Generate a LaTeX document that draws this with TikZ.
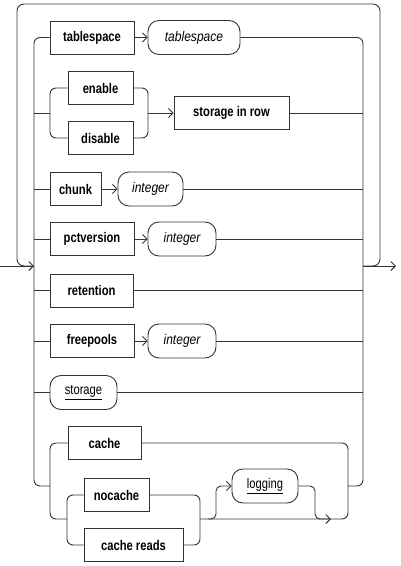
\documentclass[tikz,border=0pt]{standalone}
\usepackage{fontspec}
\setmainfont{Liberation Sans}
\newfontfamily\narfont{Liberation Sans}[FakeStretch=0.8]
\newfontfamily\narifont{Liberation Sans}[FakeStretch=0.86]
\usetikzlibrary{arrows.meta}
\begin{document}
\begin{tikzpicture}[x=1pt,y=-1pt,
  line width=0.9pt, draw=black!80,
  kw/.style={draw, rectangle, font=\narfont\bfseries\fontsize{14}{16}\selectfont, inner sep=0pt, minimum height=33pt},
  var/.style={draw, rectangle, rounded corners=11pt, font=\narifont\itshape\fontsize{14}{16}\selectfont, inner sep=0pt, minimum height=34pt},
  refx/.style={draw, rectangle, rounded corners=11pt, font=\narfont\fontsize{14}{16}\selectfont, inner sep=0pt, minimum height=34pt},
  rail/.style={rounded corners=6pt},
  arr/.style={-{Straight Barb[length=4.5pt,width=9pt]}},
]
\useasboundingbox (0,0) rectangle (400,566);
% nodes
\node[kw, minimum width=84pt] (tsk) at (92,37.5) {tablespace};
\node[var, minimum width=92pt] (tsv) at (194,37.5) {tablespace};
\node[kw, minimum width=65pt] (en) at (100.5,88) {enable};
\node[kw, minimum width=65pt] (dis) at (100.5,138) {disable};
\node[kw, minimum width=115pt] (sir) at (231.5,113) {storage in row};
\node[kw, minimum width=51pt] (chunk) at (75.5,189) {chunk};
\node[var, minimum width=65pt] (i1) at (150.5,189) {integer};
\node[kw, minimum width=84pt] (pct) at (92,239) {pctversion};
\node[var, minimum width=68pt] (i2) at (182,239) {integer};
\node[kw, minimum width=83pt] (ret) at (91.5,290.5) {retention};
\node[kw, minimum width=84pt] (free) at (92,341) {freepools};
\node[var, minimum width=68pt] (i3) at (182,341) {integer};
\node[refx, minimum width=67pt] (stor) at (83.5,392.5) {\underline{storage}};
\node[kw, minimum width=73pt] (cache) at (104.5,443) {cache};
\node[kw, minimum width=65pt] (noc) at (116.5,495) {nocache};
\node[kw, minimum width=99pt] (cr) at (133.5,545) {cache reads};
\node[refx, minimum width=66pt] (log) at (265,486) {\underline{logging}};
% rail coordinates
\coordinate (L) at (34,0);
\coordinate (R) at (363,0);
\coordinate (in) at (0,266);
\coordinate (jin) at (34,266);
\coordinate (jout) at (363,266);
\coordinate (out) at (396,266);
\coordinate (eg) at (50,113);
\coordinate (eo) at (148,113);
\coordinate (cl) at (50,486);
\coordinate (cr2) at (348,486);
\coordinate (sl) at (67,519);
\coordinate (sr) at (200,519);
% main rails
\draw[rail] (tsk.west) -| (cl -| L) -- (cl);
\draw[rail] (tsv.east) -| (cr2 -| R) -- (cr2);
\draw[arr] (tsk.east) -- (tsv.west);
% enable/disable group
\draw (eg -| L) -- (eg);
\draw[rail] (en.west) -| (eg) |- (dis.west);
\draw[rail] (en.east) -| (eo) |- (dis.east);
\draw[arr] (eo) -- (sir.west);
\draw (sir.east) -- (sir.east -| R);
% chunk
\draw (chunk.west -| L) -- (chunk.west);
\draw[arr] (chunk.east) -- (i1.west);
\draw (i1.east) -- (i1.east -| R);
% pctversion
\draw (pct.west -| L) -- (pct.west);
\draw[arr] (pct.east) -- (i2.west);
\draw (i2.east) -- (i2.east -| R);
% retention
\draw (ret.west -| L) -- (ret.west);
\draw (ret.east) -- (ret.east -| R);
% freepools
\draw (free.west -| L) -- (free.west);
\draw[arr] (free.east) -- (i3.west);
\draw (i3.east) -- (i3.east -| R);
% storage
\draw (stor.west -| L) -- (stor.west);
\draw (stor.east) -- (stor.east -| R);
% entry, exit and loop
\draw (in) -- (jin);
\draw[rail, rounded corners=7pt, arr] (jout) -| (380,4) -| (17,266) -- (jin);
\draw[arr] (jout) -- (out);
% cache group
\draw[rail] (cache.west) -| (sl -| cl) -- (sl);
\draw[rail] (noc.west) -| (sl) |- (cr.west);
\draw[rail] (noc.east) -| (sr) |- (cr.east);
\draw[rail] (sr) -| (cache.east -| cr2) -- (cache.east);
\draw[rail, rounded corners=5pt, arr] (208,519) -| (216,486) -- (log.west);
\draw[rail, rounded corners=5pt, arr] (log.east) -| (315,519) -- (331,519);
\end{tikzpicture}
\end{document}
